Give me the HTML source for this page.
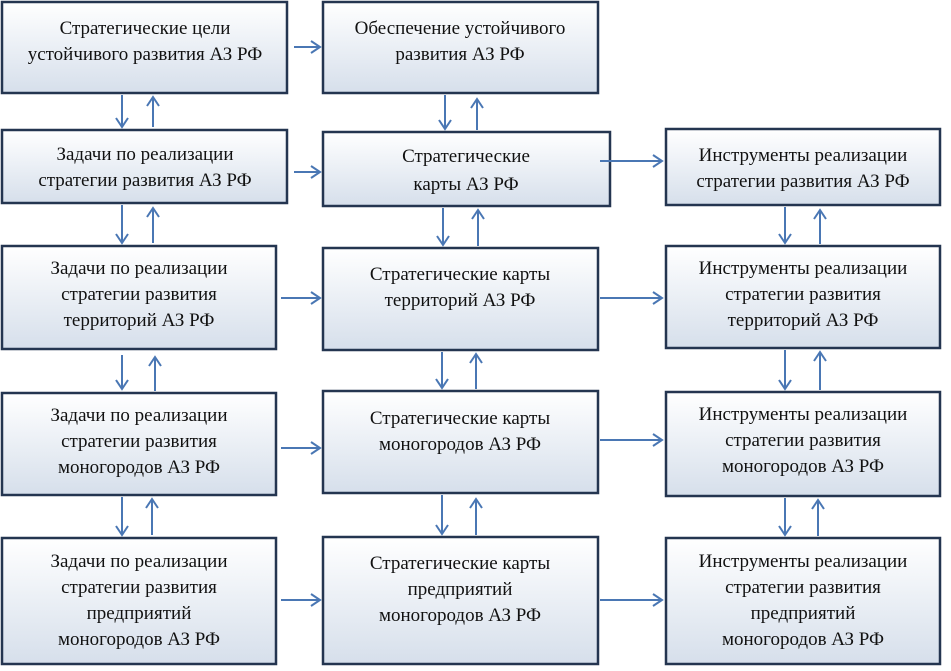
<!DOCTYPE html>
<html><head><meta charset="utf-8"><style>
body{margin:0;background:#fff}
svg text{font-family:"Liberation Serif",serif;font-size:19px;fill:#111;text-anchor:middle}
</style></head><body>
<svg width="951" height="666" viewBox="0 0 951 666" xmlns="http://www.w3.org/2000/svg">
<defs>
<linearGradient id="g" x1="0" y1="0" x2="0" y2="1"><stop offset="0" stop-color="#ffffff"/><stop offset="1" stop-color="#d6dfeb"/></linearGradient>
<marker id="a" markerWidth="12" markerHeight="14" refX="10" refY="7" orient="auto" markerUnits="userSpaceOnUse"><path d="M1,1 L10,7 L1,13" fill="none" stroke="#4a77b4" stroke-width="2"/></marker>
</defs>
<g fill="url(#g)" stroke="#243550" stroke-width="2.5">
<rect x="2" y="2" width="285" height="91"/>
<rect x="323" y="2" width="275" height="91"/>
<rect x="2" y="130" width="285" height="73"/>
<rect x="323" y="132" width="287" height="74"/>
<rect x="666" y="129" width="274" height="76"/>
<rect x="2" y="246" width="274" height="103"/>
<rect x="323" y="248" width="275" height="102"/>
<rect x="666" y="246" width="274" height="102"/>
<rect x="2" y="393" width="274" height="102"/>
<rect x="323" y="391" width="275" height="102"/>
<rect x="666" y="392" width="274" height="104"/>
<rect x="2" y="538" width="274" height="126"/>
<rect x="323" y="537" width="275" height="127"/>
<rect x="666" y="538" width="274" height="126"/>
</g>
<g stroke="#4a77b4" stroke-width="2" marker-end="url(#a)" fill="none">
<path d="M294,47 H320"/>
<path d="M294,172 H320"/>
<path d="M281,298 H320"/>
<path d="M281,448 H320"/>
<path d="M281,600 H320"/>
<path d="M600,161 H662"/>
<path d="M600,298 H662"/>
<path d="M600,440 H662"/>
<path d="M600,600 H662"/>
<path d="M122,95 V127"/><path d="M153,127 V97"/>
<path d="M122,205 V243"/><path d="M153,243 V208"/>
<path d="M122,355 V389"/><path d="M155,391 V357"/>
<path d="M122,497 V535"/><path d="M152,535 V499"/>
<path d="M445,95 V129"/><path d="M477,130 V99"/>
<path d="M443,208 V245"/><path d="M478,246 V210"/>
<path d="M442,352 V388"/><path d="M476,389 V354"/>
<path d="M442,495 V534"/><path d="M476,535 V499"/>
<path d="M785,207 V243"/><path d="M820,244 V210"/>
<path d="M785,350 V389"/><path d="M820,390 V352"/>
<path d="M785,498 V535"/><path d="M818,536 V500"/>
</g>
<text x="145" y="34">Стратегические цели</text>
<text x="145" y="60">устойчивого развития АЗ РФ</text>
<text x="460" y="34">Обеспечение устойчивого</text>
<text x="460" y="60">развития АЗ РФ</text>
<text x="145" y="160">Задачи по реализации</text>
<text x="145" y="186">стратегии развития АЗ РФ</text>
<text x="466" y="162">Стратегические</text>
<text x="466" y="190">карты АЗ РФ</text>
<text x="803" y="161">Инструменты реализации</text>
<text x="803" y="187">стратегии развития АЗ РФ</text>
<text x="139" y="274">Задачи по реализации</text>
<text x="139" y="300">стратегии развития</text>
<text x="139" y="326">территорий АЗ РФ</text>
<text x="460" y="280">Стратегические карты</text>
<text x="460" y="306">территорий АЗ РФ</text>
<text x="803" y="274">Инструменты реализации</text>
<text x="803" y="300">стратегии развития</text>
<text x="803" y="326">территорий АЗ РФ</text>
<text x="139" y="421">Задачи по реализации</text>
<text x="139" y="447">стратегии развития</text>
<text x="139" y="473">моногородов АЗ РФ</text>
<text x="460" y="424">Стратегические карты</text>
<text x="460" y="450">моногородов АЗ РФ</text>
<text x="803" y="420">Инструменты реализации</text>
<text x="803" y="446">стратегии развития</text>
<text x="803" y="472">моногородов АЗ РФ</text>
<text x="139" y="567">Задачи по реализации</text>
<text x="139" y="593">стратегии развития</text>
<text x="139" y="619">предприятий</text>
<text x="139" y="645">моногородов АЗ РФ</text>
<text x="460" y="569">Стратегические карты</text>
<text x="460" y="595">предприятий</text>
<text x="460" y="621">моногородов АЗ РФ</text>
<text x="803" y="567">Инструменты реализации</text>
<text x="803" y="593">стратегии развития</text>
<text x="803" y="619">предприятий</text>
<text x="803" y="645">моногородов АЗ РФ</text>
</svg>
</body></html>
